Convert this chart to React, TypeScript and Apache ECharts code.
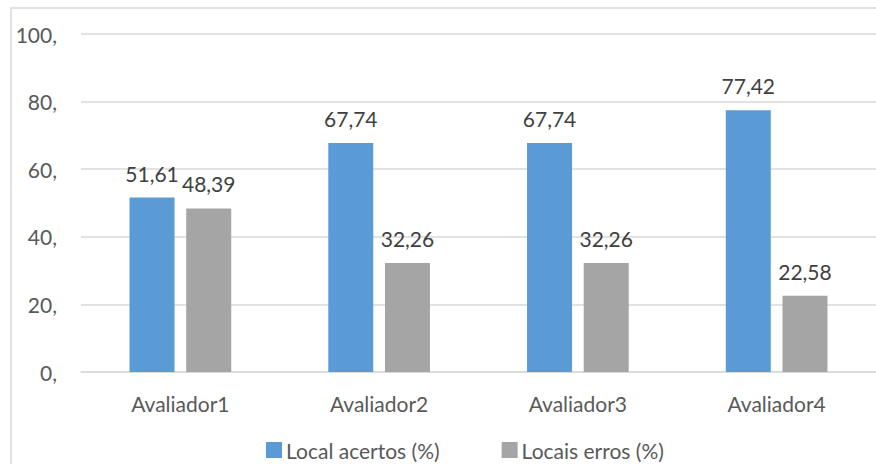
import React, { useEffect, useRef } from "react";
import * as echarts from "echarts";

const categories = ["Avaliador1", "Avaliador2", "Avaliador3", "Avaliador4"];
const acertos = [51.61, 67.74, 67.74, 77.42];
const erros = [48.39, 32.26, 32.26, 22.58];
const seriesNames = ["Local acertos (%)", "Locais erros (%)"];

const FONT = "Lato, 'Open Sans', sans-serif";
const TEXT = "#595959";
const FS = 21;

const fmt = (v: number) => v.toFixed(2).replace(".", ",");

export default function App() {
  const ref = useRef<HTMLDivElement>(null);

  useEffect(() => {
    if (!ref.current) return;
    const chart = echarts.init(ref.current, null, { renderer: "svg" });
    const labelStyle = {
      show: true,
      position: "top" as const,
      distance: 14,
      color: "#404040",
      fontSize: FS,
      fontFamily: FONT,
      formatter: (p: any) => fmt(p.value),
    };
    chart.setOption({
      animation: false,
      backgroundColor: "#ffffff",
      textStyle: { fontFamily: FONT },
      graphic: [
        {
          type: "rect",
          shape: { x: 11, y: 8, width: 920, height: 500 },
          style: { fill: "none", stroke: "#d9d9d9", lineWidth: 1.5 },
          silent: true,
          z: -1,
        },
      ],
      grid: { left: 81, top: 34, width: 806, bottom: 92 },
      legend: {
        top: 439,
        left: 266,
        padding: 0,
        itemWidth: 16,
        itemHeight: 16,
        itemGap: 62,
        icon: "rect",
        textStyle: {
          color: TEXT,
          fontSize: FS,
          fontFamily: FONT,
          lineHeight: 22,
          padding: [0, 0, 0, -1],
        },
        data: seriesNames,
      },
      xAxis: {
        type: "category",
        data: categories,
        axisLine: { lineStyle: { color: "#d9d9d9", width: 1.5 } },
        axisTick: { show: false },
        axisLabel: { color: TEXT, fontSize: FS, fontFamily: FONT, margin: 21 },
      },
      yAxis: {
        type: "value",
        min: 0,
        max: 100,
        interval: 20,
        axisLine: { show: false },
        axisTick: { show: false },
        splitLine: { lineStyle: { color: "#d9d9d9", width: 1.5 } },
        axisLabel: {
          color: TEXT,
          fontSize: FS,
          fontFamily: FONT,
          margin: 24,
          formatter: (v: number) => `${v},`,
        },
      },
      series: [
        {
          name: seriesNames[0],
          type: "bar",
          data: acertos,
          barWidth: 45,
          barGap: "26%",
          itemStyle: { color: "#5b9bd5" },
          label: labelStyle,
        },
        {
          name: seriesNames[1],
          type: "bar",
          data: erros,
          barWidth: 45,
          itemStyle: { color: "#a5a5a5" },
          label: labelStyle,
        },
      ],
    });
    return () => chart.dispose();
  }, []);

  return (
    <div
      ref={ref}
      style={{ position: "absolute", left: 0, top: 0, width: 876, height: 464 }}
    />
  );
}
